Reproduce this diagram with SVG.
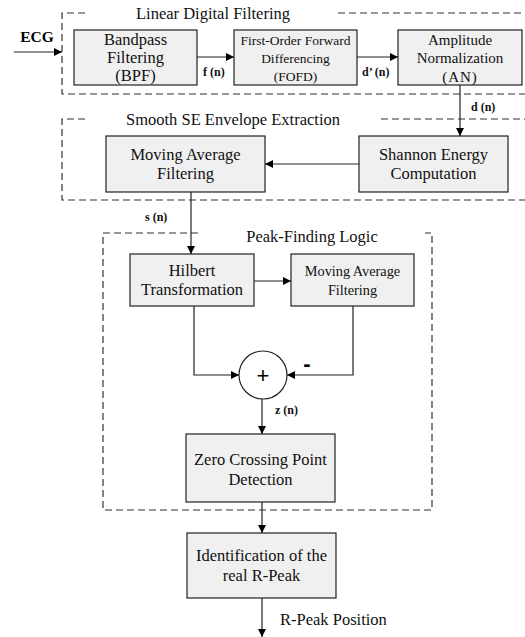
<svg xmlns="http://www.w3.org/2000/svg" width="525" height="637" viewBox="0 0 525 637" font-family="'Liberation Serif', 'Times New Roman', serif">
<defs>
<marker id="ah" viewBox="0 0 10 10" refX="10" refY="5" markerWidth="8" markerHeight="8" orient="auto" markerUnits="userSpaceOnUse">
<path d="M0,0 L10,5 L0,10 z" fill="#000"/>
</marker>
<style>
.box{fill:#f0f0f0;stroke:#222;stroke-width:1.2}
.grp{fill:none;stroke:#333;stroke-width:1.2;stroke-dasharray:7,4}
.t{font-size:16.5px;fill:#111;text-anchor:middle}
.lb{font-size:12px;font-weight:bold;fill:#111}
.c{fill:none;stroke:#222;stroke-width:1.2}
</style>
</defs>
<rect width="525" height="637" fill="#fff"/>

<g id="groups">
<path class="grp" d="M85,13 H62 V94 H525 M338,13 H525"/>
<text class="t" x="213" y="19">Linear Digital Filtering</text>
<path class="grp" d="M85,119 H62 V200 H525 M381,119 H525"/>
<text class="t" x="233" y="125">Smooth SE Envelope Extraction</text>
<path class="grp" d="M198,233 H103 V510 H432 V233 H425"/>
<text class="t" x="312" y="242">Peak-Finding Logic</text>
</g>

<g id="ecg"><text x="37" y="42" font-size="15.5" font-weight="bold" text-anchor="middle">ECG</text></g>

<g id="bpf"><rect class="box" x="74" y="30" width="123" height="55"/>
<text class="t" font-size="15.5" x="135.5" y="45">Bandpass</text><text class="t" font-size="15.5" x="135.5" y="63">Filtering</text><text class="t" font-size="15.5" x="135.5" y="81">(BPF)</text></g>

<g id="fofd"><rect class="box" x="234" y="30" width="123" height="55"/>
<text class="t" style="font-size:13.5px" x="295.5" y="45">First-Order Forward</text><text class="t" style="font-size:13.5px" x="295.5" y="63">Differencing</text><text class="t" style="font-size:13.5px" x="295.5" y="81">(FOFD)</text></g>

<g id="an"><rect class="box" x="398" y="30" width="124" height="55"/>
<text class="t" style="font-size:15px" x="460" y="45">Amplitude</text><text class="t" style="font-size:15px" x="460" y="63">Normalization</text><text class="t" style="font-size:15px;letter-spacing:1px" x="460" y="82">(AN)</text></g>

<g id="shannon"><rect class="box" x="359" y="136" width="149" height="56"/>
<text class="t" x="433.5" y="160">Shannon Energy</text><text class="t" x="433.5" y="179">Computation</text></g>

<g id="maf1"><rect class="box" x="106" y="136" width="159" height="56"/>
<text class="t" x="185.5" y="160">Moving Average</text><text class="t" x="185.5" y="179">Filtering</text></g>

<g id="hilbert"><rect class="box" x="130" y="254" width="124" height="52"/>
<text class="t" x="192" y="276">Hilbert</text><text class="t" x="192" y="295">Transformation</text></g>

<g id="maf2"><rect class="box" x="291" y="254" width="123" height="52"/>
<text class="t" style="font-size:14.3px" x="352.5" y="276">Moving Average</text><text class="t" style="font-size:14.3px" x="352.5" y="295">Filtering</text></g>

<g id="sum"><circle cx="263" cy="375" r="24" fill="#fff" stroke="#222" stroke-width="1.2"/>
<text x="263" y="383" font-family="'Liberation Sans', Arial, sans-serif" font-size="22" text-anchor="middle">+</text></g>

<g id="zero"><rect class="box" x="186" y="434" width="149" height="68"/>
<text class="t" x="260.5" y="465">Zero Crossing Point</text><text class="t" x="260.5" y="485">Detection</text></g>

<g id="ident"><rect class="box" x="187" y="533" width="149" height="65"/>
<text class="t" x="261.5" y="561">Identification of the</text><text class="t" x="261.5" y="581">real R-Peak</text></g>

<g id="connectors">
<path class="c" d="M14,52 H62" marker-end="url(#ah)"/>
<path class="c" d="M197,57 H234" marker-end="url(#ah)"/>
<path class="c" d="M357,57 H398" marker-end="url(#ah)"/>
<path class="c" d="M460,85 V136" marker-end="url(#ah)"/>
<path class="c" d="M359,164 H265" marker-end="url(#ah)"/>
<path class="c" d="M191,192 V254" marker-end="url(#ah)"/>
<path class="c" d="M254,281 H291" marker-end="url(#ah)"/>
<path class="c" d="M194,306 V375 H239" marker-end="url(#ah)"/>
<path class="c" d="M353,306 V375 H287" marker-end="url(#ah)"/>
<path class="c" d="M262,399 V434" marker-end="url(#ah)"/>
<path class="c" d="M262,502 V533" marker-end="url(#ah)"/>
<path class="c" d="M262,598 V637" marker-end="url(#ah)"/>
<text class="lb" x="203" y="76">f (n)</text>
<text class="lb" x="362" y="76">d’ (n)</text>
<text class="lb" x="471" y="111">d (n)</text>
<text class="lb" x="145" y="221">s (n)</text>
<text class="lb" x="275" y="414">z (n)</text>
<text x="307" y="371" font-family="'Liberation Sans', Arial, sans-serif" font-size="22" font-weight="bold" text-anchor="middle">-</text>
<text x="280" y="625" font-size="16.5" fill="#111">R-Peak Position</text>
</g>
</svg>
